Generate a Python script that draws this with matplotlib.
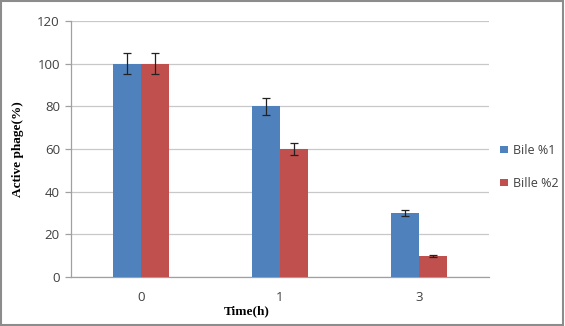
import numpy as np
import matplotlib.pyplot as plt
from matplotlib.patches import Rectangle

times = ['0', '1', '3']
bile1 = [100, 80, 30]
bile2 = [100, 60, 10]
bile1_err = [5, 4, 1.5]
bile2_err = [5, 3, 0.5]

blue = '#4F81BD'
red = '#C0504D'

fig = plt.figure(figsize=(5.65, 3.26), dpi=100)
ax = fig.add_axes([0.1257, 0.1503, 0.7398, 0.7853])

x = np.arange(len(times))
w = 0.2
err_kw = dict(ecolor='#222222', elinewidth=0.9, capsize=3, capthick=0.9)
ax.bar(x - w / 2, bile1, w, color=blue, yerr=bile1_err, error_kw=err_kw,
       label='Bile %1', zorder=3)
ax.bar(x + w / 2, bile2, w, color=red, yerr=bile2_err, error_kw=err_kw,
       label='Bille %2', zorder=3)

ax.set_xlim(-0.5, len(times) - 0.5)
ax.set_ylim(0, 120)
ax.set_yticks(range(0, 121, 20))
ax.set_xticks(x)
ax.set_xticklabels(times)
ax.yaxis.grid(True, color='#c8c8c8', linewidth=0.9, zorder=0)
ax.set_axisbelow(True)

for s in ['top', 'right']:
    ax.spines[s].set_visible(False)
for s in ['left', 'bottom']:
    ax.spines[s].set_color('#a0a0a0')
    ax.spines[s].set_linewidth(0.9)

ax.tick_params(axis='y', colors='#a0a0a0', length=4, width=0.9,
               labelcolor='#404040', labelsize=9.5, pad=4)
ax.tick_params(axis='x', length=0, labelcolor='#404040', labelsize=9.5, pad=10)
for lab in ax.get_xticklabels() + ax.get_yticklabels():
    lab.set_fontfamily('Open Sans')

ax.set_xlabel('Time(h)', fontfamily='Liberation Serif', fontweight='bold',
              fontsize=9.5)
ax.xaxis.set_label_coords(0.42, -0.11)
ax.set_ylabel('Active phage(%)', fontfamily='Liberation Serif',
              fontweight='bold', fontsize=9.5)
ax.yaxis.set_label_coords(-0.113, 0.5)

leg = ax.legend(loc='center left', bbox_to_anchor=(1.0, 0.43), frameon=False,
                handlelength=0.6, handleheight=0.6, handletextpad=0.4,
                labelspacing=1.6, prop={'family': 'Open Sans', 'size': 9})
for t in leg.get_texts():
    t.set_color('#404040')

# outer chart border
fig.patches.append(Rectangle((0.002, 0.004), 0.995, 0.992,
                             transform=fig.transFigure, fill=False,
                             edgecolor='#8c8c8c', linewidth=1.5))

fig.savefig('out.png', dpi=100)
